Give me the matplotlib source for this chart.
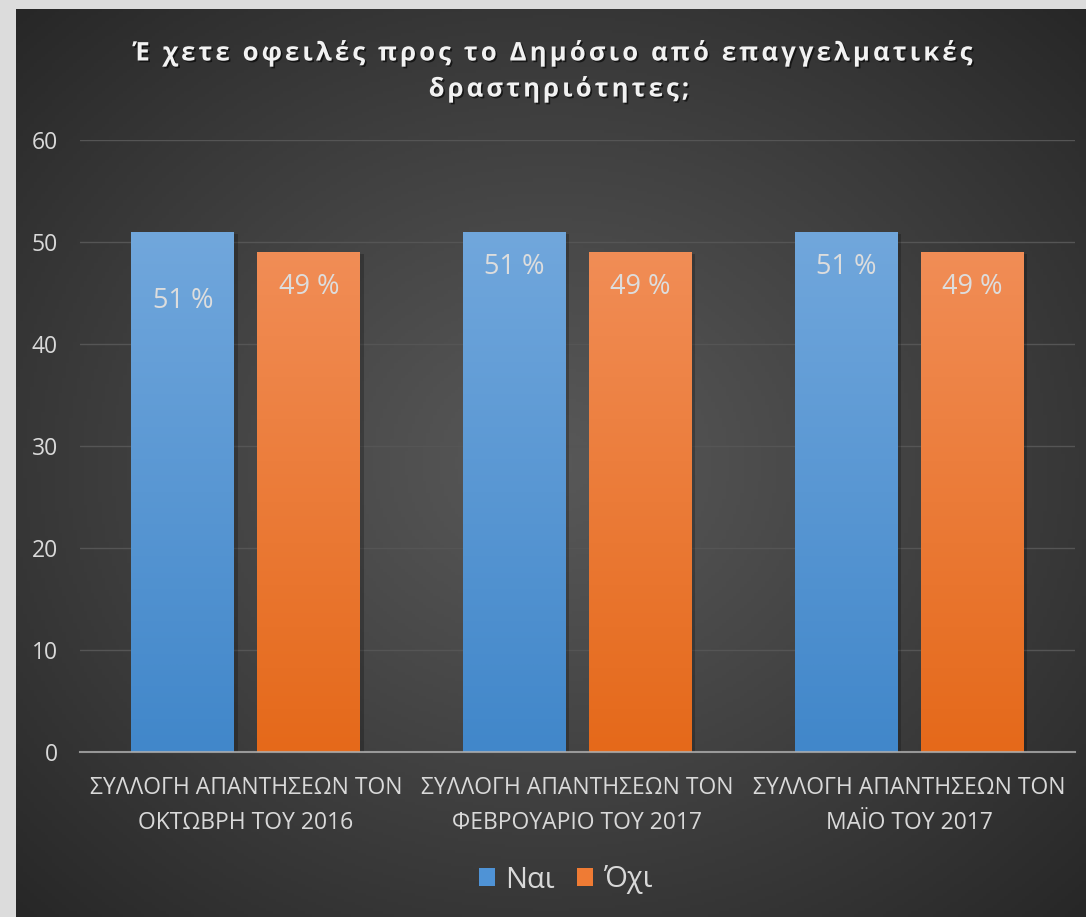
import numpy as np
import matplotlib.pyplot as plt
import matplotlib.patheffects as pe
from matplotlib.patches import Patch
from matplotlib.colors import LinearSegmentedColormap

plt.rcParams['font.family'] = ['Open Sans', 'DejaVu Sans']

# data
categories = ['ΣΥΛΛΟΓΗ ΑΠΑΝΤΗΣΕΩΝ ΤΟΝ\nΟΚΤΩΒΡΗ ΤΟΥ 2016',
              'ΣΥΛΛΟΓΗ ΑΠΑΝΤΗΣΕΩΝ ΤΟΝ\nΦΕΒΡΟΥΑΡΙΟ ΤΟΥ 2017',
              'ΣΥΛΛΟΓΗ ΑΠΑΝΤΗΣΕΩΝ ΤΟΝ\nΜΑΪΟ ΤΟΥ 2017']
nai = [51, 51, 51]
oxi = [49, 49, 49]
nai_labels = ['51 %', '51 %', '51 %']
oxi_labels = ['49 %', '49 %', '49 %']
series_names = ['Ναι', 'Όχι']
yticks = [0, 10, 20, 30, 40, 50, 60]
title_lines = ['Έ χετε οφειλές προς το Δημόσιο από επαγγελματικές',
               'δραστηριότητες;']

W, H = 1086, 917
fig = plt.figure(figsize=(W / 100, H / 100), dpi=100)
fig.patch.set_facecolor('#dcdcdc')

# dark chart area with radial gradient
bg = fig.add_axes([16 / W, 0, 1 - 16 / W, 1 - 9 / H])
yy, xx = np.mgrid[0:1:300j, 0:1:300j]
r = np.sqrt(((xx - 0.5) / 0.75) ** 2 + ((yy - 0.5) / 0.75) ** 2)
r = np.clip(r / r.max(), 0, 1)
c_in = np.array([0x58, 0x58, 0x58]) / 255
c_out = np.array([0x27, 0x27, 0x27]) / 255
img = c_in + (c_out - c_in) * (r[..., None] ** 1.1)
bg.imshow(img, extent=[0, 1, 0, 1], aspect='auto', origin='lower')
bg.axis('off')

ax = fig.add_axes([80 / W, 1 - 752 / H, 995 / W, 612 / H])
ax.patch.set_visible(False)

x = np.arange(len(categories))
bw = 0.31
blue_cmap = LinearSegmentedColormap.from_list('b', ['#4187ca', '#71a7dc'])
orange_cmap = LinearSegmentedColormap.from_list('o', ['#e5691a', '#f18d56'])
shadow = [pe.SimplePatchShadow(offset=(2.5, -1.5), shadow_rgbFace='black', alpha=0.22), pe.Normal()]

bars1 = ax.bar(x - 0.19, nai, bw, color='#5b9bd5', zorder=2, path_effects=shadow)
bars2 = ax.bar(x + 0.19, oxi, bw, color='#ed7d31', zorder=2, path_effects=shadow)

grad = np.linspace(0, 1, 256).reshape(-1, 1)
for bars, cmap in [(bars1, blue_cmap), (bars2, orange_cmap)]:
    for b in bars:
        x0, h = b.get_x(), b.get_height()
        im = ax.imshow(grad, extent=(x0, x0 + b.get_width(), 0, h), aspect='auto',
                       origin='lower', cmap=cmap, zorder=2.5)
        im.set_clip_path(b)

ax.set_xlim(-0.5, 2.5)
ax.set_ylim(0, 60)
ax.set_yticks(yticks)
ax.set_xticks(x)
ax.set_xticklabels(categories, linespacing=1.65)
ax.yaxis.grid(True, color='#555555', linewidth=1)
ax.set_axisbelow(True)
for s in ['top', 'right', 'left']:
    ax.spines[s].set_visible(False)
ax.spines['bottom'].set_color('#b0b0b0')
ax.spines['bottom'].set_alpha(0.8)
ax.spines['bottom'].set_linewidth(1.5)
ax.spines['bottom'].set_zorder(5)
ax.tick_params(axis='both', length=0, colors='#d9d9d9', labelsize=16.5)
ax.tick_params(axis='y', pad=16)
ax.tick_params(axis='x', pad=17)

# value labels inside bars
nai_off = [-50, -25, -25]
oxi_off = [-25, -25, -25]
for i in range(len(categories)):
    ax.annotate(nai_labels[i], (x[i] - 0.19, nai[i]), xytext=(0, nai_off[i]),
                textcoords='offset points', ha='center', va='center',
                fontsize=19.5, color='#dddddd', zorder=6)
    ax.annotate(oxi_labels[i], (x[i] + 0.19, oxi[i]), xytext=(0, oxi_off[i]),
                textcoords='offset points', ha='center', va='center',
                fontsize=19.5, color='#dddddd', zorder=6)

# legend
handles = [Patch(facecolor='#4f93d6'), Patch(facecolor='#ef7b34')]
fig.legend(handles, series_names, loc='center', bbox_to_anchor=(566 / W, 1 - 880 / H),
           ncol=2, frameon=False, fontsize=21, labelcolor='#d9d9d9',
           handlelength=0.55, handleheight=0.55, handletextpad=0.35, columnspacing=0.75)

# letter-spaced title
renderer = fig.canvas.get_renderer()
tkw = dict(fontsize=18.5, fontweight='bold')


def text_w(t):
    tt = fig.text(0, 0, t, **tkw)
    w = tt.get_window_extent(renderer).width
    tt.remove()
    return w


def spaced_title(s, xc, yc, gap):
    wx = text_w('X')
    pos = [text_w(s[:i] + 'X') - wx for i in range(len(s))]
    total = text_w(s) + gap * (len(s) - 1)
    x0 = xc - total / 2
    for i, ch in enumerate(s):
        if ch == ' ':
            continue
        fig.text((x0 + pos[i] + gap * i) / W, 1 - yc / H, ch, ha='left', va='center',
                 color='#f2f2f2', **tkw,
                 path_effects=[pe.withSimplePatchShadow(offset=(1.2, -1.2),
                                                        shadow_rgbFace='black', alpha=0.6)])


spaced_title(title_lines[0], 553, 53, 3.1)
spaced_title(title_lines[1], 559, 89, 3.1)

fig.savefig('out.png', dpi=100, facecolor=fig.get_facecolor())
